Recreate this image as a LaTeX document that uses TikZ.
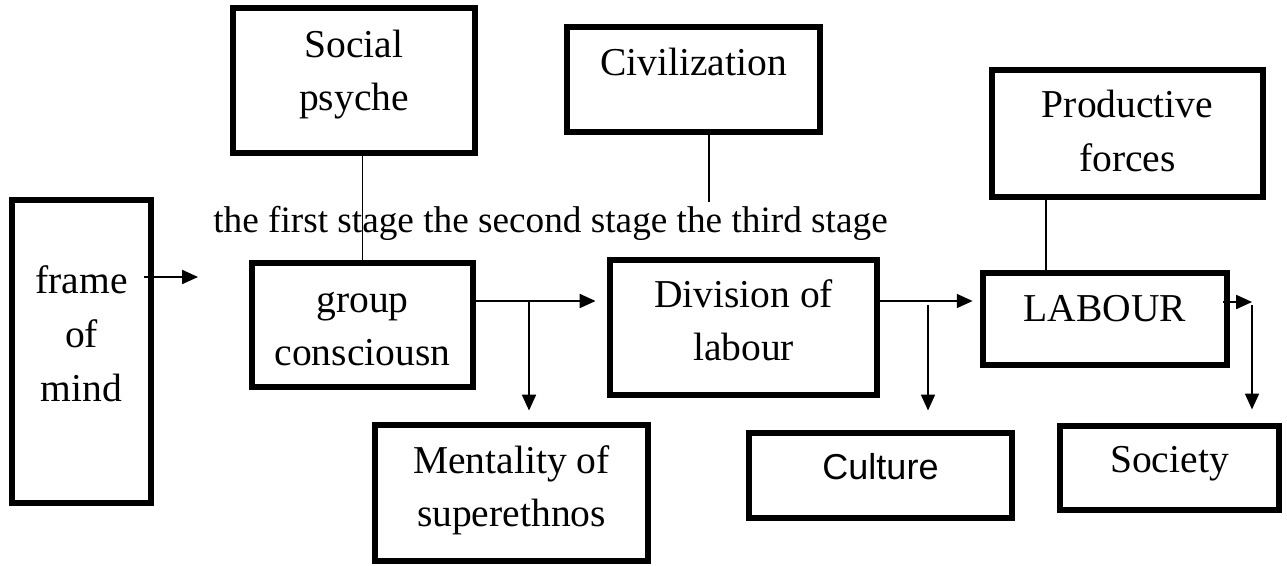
\documentclass[tikz,border=0pt]{standalone}
\usepackage{fontspec}
\setmainfont{Liberation Serif}
\newfontfamily\sgsans{Liberation Sans}
\usetikzlibrary{arrows.meta,positioning,calc}
\definecolor{sgInk}{HTML}{000000}
\newdimen\sgpx \sgpx=0.5691pt
\newcommand{\sgtext}[2]{\raisebox{#1\sgpx}[\height][\depth]{\begin{tabular}{@{}c@{}}#2\end{tabular}}}
\tikzset{
  sgbox/.style={rectangle,draw=sgInk,line width=2.9pt,inner sep=0pt,text=sgInk,font=\fontsize{22.5}{30.5}\selectfont},
  sgsansbox/.style={sgbox,font=\sgsans\fontsize{20.5}{30.5}\selectfont},
  sglink/.style={-{Triangle[length=9pt,width=8pt]},draw=sgInk,line width=0.85pt},
  sgline/.style={draw=sgInk,line width=0.85pt},
  sgstage/.style={font=\fontsize{21.2}{28}\selectfont,text=sgInk,inner sep=0pt,anchor=base}
}

\begin{document}
\begin{tikzpicture}[x=0.02cm,y=-0.02cm]
\useasboundingbox (0,0) rectangle (1287,565);

% ---- FRAME OF MIND ----
\node[sgbox, minimum width=2.78cm, minimum height=6.06cm] (mind) at (81.5,351.5) {\sgtext{14.75}{frame\\of\\mind}};

% ---- UPPER ROW ----
\node[sgbox, minimum width=4.84cm, minimum height=2.9cm] (psyche) at (354,80.5) {\sgtext{7.25}{Social\\psyche}};
\node[sgbox, minimum width=5.06cm, minimum height=2.1cm] (civil) at (693.5,79.5) {\sgtext{15}{Civilization}};
\node[sgbox, minimum width=5.42cm, minimum height=2.54cm] (forces) at (1127.5,133.5) {\sgtext{0}{Productive\\forces}};

% ---- STAGES ----
\node[sgstage] (stages) at (550.5,232) {the first stage the second stage the third stage};

% ---- MIDDLE ROW ----
\node[sgbox, minimum width=4.42cm, minimum height=2.48cm] (group) at (362.5,325) {\sgtext{-3.25}{group\\consciousn}};
\node[sgbox, minimum width=5.34cm, minimum height=2.7cm] (division) at (743.5,327.5) {\sgtext{4.25}{Division of\\labour}};
\node[sgbox, minimum width=4.88cm, minimum height=1.84cm] (labour) at (1105,319) {\sgtext{7.75}{LABOUR}};

% ---- LOWER ROW ----
\node[sgbox, minimum width=5.46cm, minimum height=2.72cm] (ment) at (511.5,493) {\sgtext{3.75}{Mentality of\\superethnos}};
\node[sgsansbox, minimum width=5.26cm, minimum height=1.7cm] (culture) at (880.5,475.5) {\sgtext{6.25}{Culture}};
\node[sgbox, minimum width=4.38cm, minimum height=1.68cm] (society) at (1169.5,468) {\sgtext{5.75}{Society}};

% ---- PLAIN LINES ----
\coordinate (civdrop) at (709,202);
\coordinate (fdrop) at (1046,0);
\draw[sgline] (group.north) -- (group.north |- psyche.south);
\draw[sgline] (civdrop |- civil.south) -- (civdrop);
\draw[sgline] (fdrop |- forces.south) -- (fdrop |- labour.north);

% ---- ARROWS ----
\coordinate (mindtip) at (198,277);
\coordinate (rowA) at (0,301);
\coordinate (brA) at (529,301);
\coordinate (brB) at (928,305);
\coordinate (outC) at (1252,302);
\coordinate (dropC) at (1252,305);
\draw[sglink] ([xshift=-5.7pt]mind.east |- mindtip) -- (mindtip);
\draw[sglink, shorten >=6.8pt] (group.east |- rowA) -- (division.west |- rowA);
\draw[sglink, shorten >=6.8pt] (brA) -- (brA |- ment.north);
\draw[sglink, shorten >=4.5pt] (division.east |- rowA) -- (labour.west |- rowA);
\draw[sglink, shorten >=11.4pt] (brB) -- (brB |- culture.north);
\draw[sglink] ([xshift=-4pt]labour.east |- outC) -- (outC);
\draw[sglink, shorten >=8pt] (dropC) -- (dropC |- society.north);

\end{tikzpicture}
\end{document}
